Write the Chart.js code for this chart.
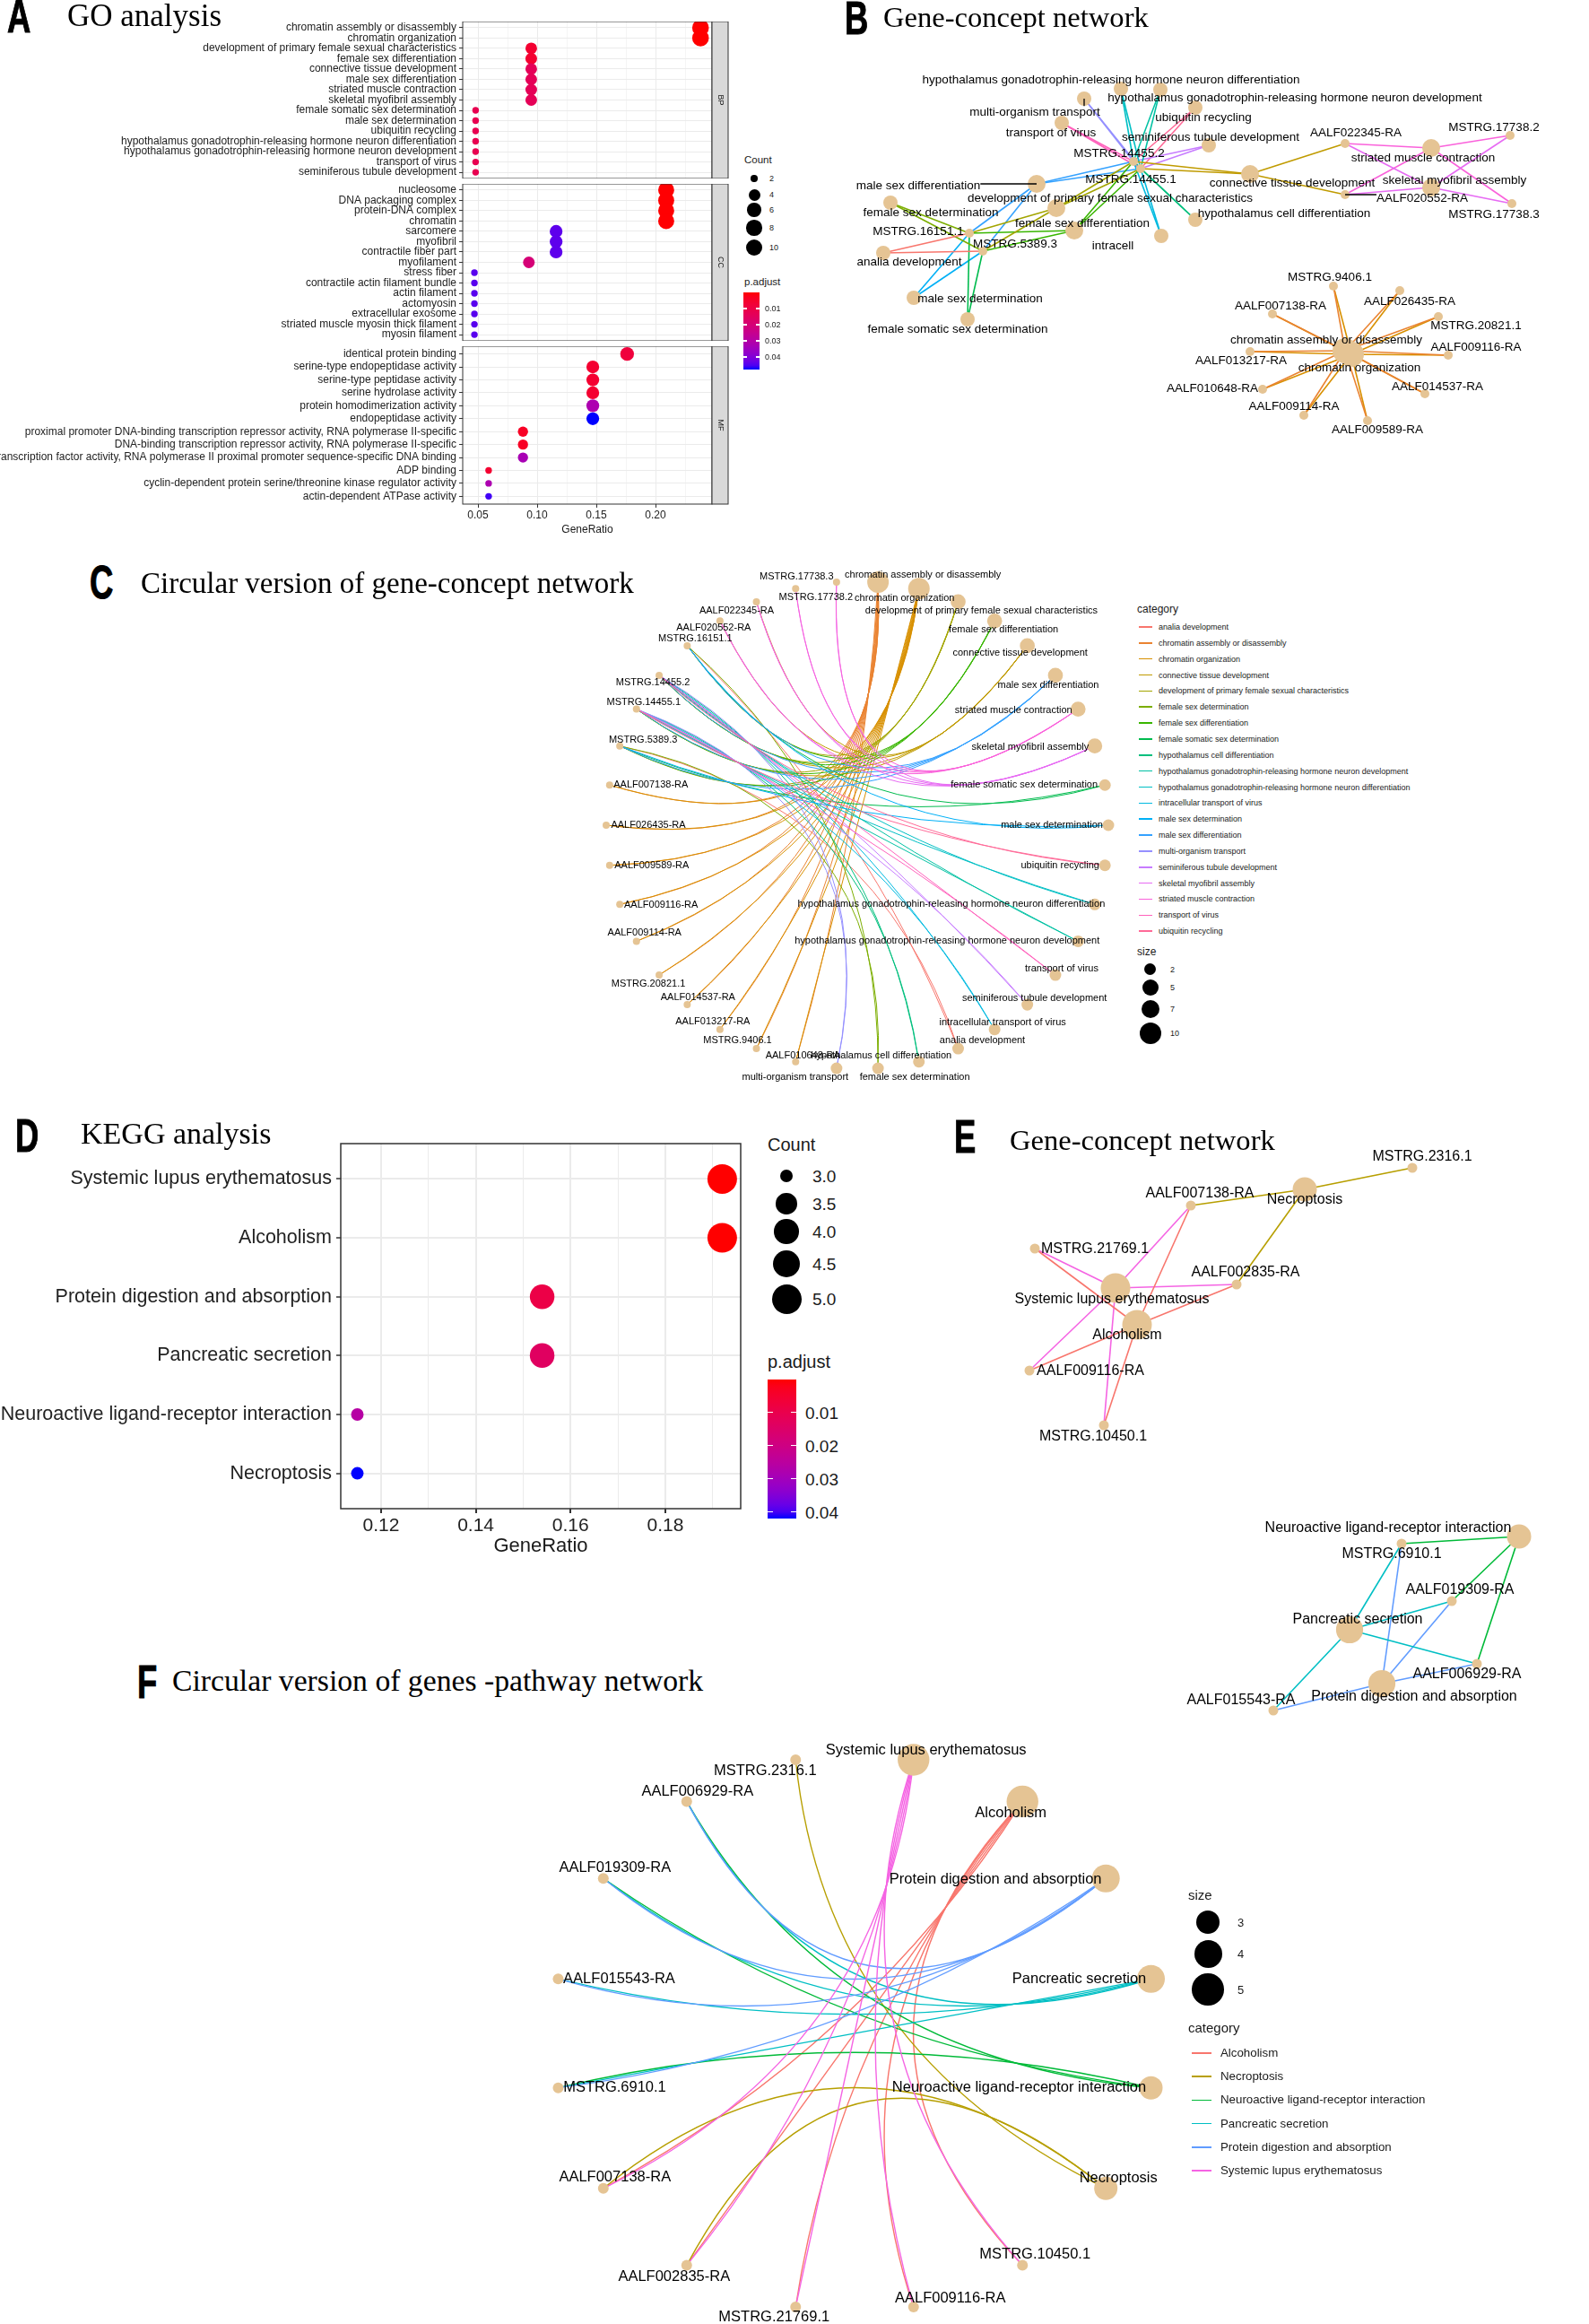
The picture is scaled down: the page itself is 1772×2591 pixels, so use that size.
<!DOCTYPE html>
<html>
<head>
<meta charset="utf-8">
<script src="https://cdn.jsdelivr.net/npm/chart.js@4.4.1/dist/chart.umd.min.js"></script>
<style>
  body { margin: 0; background: #fff; }
  #page { position: relative; width: 1772px; height: 2591px; overflow: hidden; background: #fff;
          font-family: "Liberation Sans", Arial, sans-serif; color: #1a1a1a; }
  #page canvas { position: absolute; }
  .t { position: absolute; white-space: nowrap; line-height: 1; }
  .letter { position: absolute; font: bold 52px "Liberation Sans", Arial, sans-serif; line-height: 1;
            transform: scaleX(0.7); transform-origin: 0 0; color: #000; -webkit-text-stroke: 1px #000; }
  .title { position: absolute; font-family: "Liberation Serif", "Times New Roman", serif; line-height: 1;
           white-space: nowrap; color: #000; }
</style>
</head>
<body>
<div id="page"></div>
<script>
// ---------------- GO enrichment (panel A) ----------------
const goBPTerms = ['chromatin assembly or disassembly', 'chromatin organization',
  'development of primary female sexual characteristics', 'female sex differentiation',
  'connective tissue development', 'male sex differentiation', 'striated muscle contraction',
  'skeletal myofibril assembly', 'female somatic sex determination', 'male sex determination',
  'ubiquitin recycling', 'hypothalamus gonadotrophin-releasing hormone neuron differentiation',
  'hypothalamus gonadotrophin-releasing hormone neuron development', 'transport of virus',
  'seminiferous tubule development'];
const goBPRatio = [0.238, 0.238, 0.095, 0.095, 0.095, 0.095, 0.095, 0.095, 0.048, 0.048, 0.048, 0.048, 0.048, 0.048, 0.048];
const goBPCount = [10, 10, 4, 4, 4, 4, 4, 4, 2, 2, 2, 2, 2, 2, 2];
const goBPPadj = [0.00001, 0.00001, 0.006, 0.006, 0.0135, 0.0135, 0.0135, 0.0135, 0.012, 0.012, 0.012, 0.012, 0.012, 0.012, 0.012];

const goCCTerms = ['nucleosome', 'DNA packaging complex', 'protein-DNA complex', 'chromatin', 'sarcomere',
  'myofibril', 'contractile fiber part', 'myofilament', 'stress fiber', 'contractile actin filament bundle',
  'actin filament', 'actomyosin', 'extracellular exosome', 'striated muscle myosin thick filament', 'myosin filament'];
const goCCRatio = [0.209, 0.209, 0.209, 0.209, 0.116, 0.116, 0.116, 0.093, 0.047, 0.047, 0.047, 0.047, 0.047, 0.047, 0.047];
const goCCCount = [9, 9, 9, 9, 5, 5, 5, 4, 2, 2, 2, 2, 2, 2, 2];
const goCCPadj = [0.0002, 0.0002, 0.0002, 0.0002, 0.044, 0.044, 0.044, 0.02, 0.0445, 0.0445, 0.0445, 0.0445, 0.0445, 0.0445, 0.0445];

const goMFTerms = ['identical protein binding', 'serine-type endopeptidase activity', 'serine-type peptidase activity',
  'serine hydrolase activity', 'protein homodimerization activity', 'endopeptidase activity',
  'proximal promoter DNA-binding transcription repressor activity, RNA polymerase II-specific',
  'DNA-binding transcription repressor activity, RNA polymerase II-specific',
  'transcription factor activity, RNA polymerase II proximal promoter sequence-specific DNA binding',
  'ADP binding', 'cyclin-dependent protein serine/threonine kinase regulator activity', 'actin-dependent ATPase activity'];
const goMFRatio = [0.176, 0.147, 0.147, 0.147, 0.147, 0.147, 0.088, 0.088, 0.088, 0.059, 0.059, 0.059];
const goMFCount = [6, 5, 5, 5, 5, 5, 3, 3, 3, 2, 2, 2];
const goMFPadj = [0.008, 0.006, 0.006, 0.006, 0.032, 0.0478, 0.004, 0.004, 0.033, 0.006, 0.032, 0.046];

const goXTicks = [0.05, 0.075, 0.1, 0.125, 0.15, 0.175, 0.2, 0.225];
const goCountBreaks = [2, 4, 6, 8, 10];
const goPadjBreaks = [0.01, 0.02, 0.03, 0.04];

// ---------------- KEGG enrichment (panel D) ----------------
const keggTerms = ['Systemic lupus erythematosus', 'Alcoholism', 'Protein digestion and absorption',
  'Pancreatic secretion', 'Neuroactive ligand-receptor interaction', 'Necroptosis'];
const keggRatio = [0.192, 0.192, 0.154, 0.154, 0.115, 0.115];
const keggCount = [5, 5, 4, 4, 3, 3];
const keggPadj = [0.0001, 0.0001, 0.009, 0.0135, 0.026, 0.042];
const keggXTicks = [0.12, 0.13, 0.14, 0.15, 0.16, 0.17, 0.18, 0.19];
const keggCountBreaks = [3, 3.5, 4, 4.5, 5];
const keggPadjBreaks = [0.01, 0.02, 0.03, 0.04];

// ---------------- gene-concept networks (panels B, C) ----------------
const chromatinGenes = ['MSTRG.9406.1', 'AALF026435-RA', 'AALF007138-RA', 'MSTRG.20821.1', 'AALF013217-RA',
  'AALF009116-RA', 'AALF010648-RA', 'AALF014537-RA', 'AALF009114-RA', 'AALF009589-RA'];
const pair14455 = ['MSTRG.14455.2', 'MSTRG.14455.1'];
const pairSex = ['MSTRG.16151.1', 'MSTRG.5389.3'];
const muscleGenes = ['AALF022345-RA', 'AALF020552-RA', 'MSTRG.17738.2', 'MSTRG.17738.3'];

const goNetTerms = ['analia development', 'chromatin assembly or disassembly', 'chromatin organization',
  'connective tissue development', 'development of primary female sexual characteristics',
  'female sex determination', 'female sex differentiation', 'female somatic sex determination',
  'hypothalamus cell differentiation', 'hypothalamus gonadotrophin-releasing hormone neuron development',
  'hypothalamus gonadotrophin-releasing hormone neuron differentiation', 'intracellular transport of virus',
  'male sex determination', 'male sex differentiation', 'multi-organism transport',
  'seminiferous tubule development', 'skeletal myofibril assembly', 'striated muscle contraction',
  'transport of virus', 'ubiquitin recycling'];
const goNetGenes = [pairSex, chromatinGenes, chromatinGenes,
  [...pair14455, 'AALF022345-RA', 'AALF020552-RA'], [...pair14455, ...pairSex],
  pairSex, [...pair14455, ...pairSex], pairSex, pair14455, pair14455, pair14455, pair14455,
  pairSex, [...pair14455, ...pairSex], pair14455, pair14455, muscleGenes, muscleGenes, pair14455, pair14455];

// order of nodes round the circle of panel C, clockwise from the top
const goCircleOrder = ['chromatin assembly or disassembly', 'chromatin organization',
  'development of primary female sexual characteristics', 'female sex differentiation',
  'connective tissue development', 'male sex differentiation', 'striated muscle contraction',
  'skeletal myofibril assembly', 'female somatic sex determination', 'male sex determination',
  'ubiquitin recycling', 'hypothalamus gonadotrophin-releasing hormone neuron differentiation',
  'hypothalamus gonadotrophin-releasing hormone neuron development', 'transport of virus',
  'seminiferous tubule development', 'intracellular transport of virus', 'analia development',
  'hypothalamus cell differentiation', 'female sex determination', 'multi-organism transport',
  'AALF010648-RA', 'MSTRG.9406.1', 'AALF013217-RA', 'AALF014537-RA', 'MSTRG.20821.1', 'AALF009114-RA',
  'AALF009116-RA', 'AALF009589-RA', 'AALF026435-RA', 'AALF007138-RA', 'MSTRG.5389.3', 'MSTRG.14455.1',
  'MSTRG.14455.2', 'MSTRG.16151.1', 'AALF020552-RA', 'AALF022345-RA', 'MSTRG.17738.3', 'MSTRG.17738.2'];
const goSizeBreaks = [2, 5, 7, 10];

// ---------------- gene-pathway networks (panels E, F) ----------------
const keggNetTerms = ['Alcoholism', 'Necroptosis', 'Neuroactive ligand-receptor interaction',
  'Pancreatic secretion', 'Protein digestion and absorption', 'Systemic lupus erythematosus'];
const keggNetGenes = [
  ['AALF007138-RA', 'MSTRG.21769.1', 'AALF002835-RA', 'AALF009116-RA', 'MSTRG.10450.1'],
  ['AALF007138-RA', 'MSTRG.2316.1', 'AALF002835-RA'],
  ['MSTRG.6910.1', 'AALF019309-RA', 'AALF006929-RA'],
  ['MSTRG.6910.1', 'AALF019309-RA', 'AALF006929-RA', 'AALF015543-RA'],
  ['MSTRG.6910.1', 'AALF019309-RA', 'AALF006929-RA', 'AALF015543-RA'],
  ['AALF007138-RA', 'MSTRG.21769.1', 'AALF002835-RA', 'AALF009116-RA', 'MSTRG.10450.1']];
const keggCircleOrder = ['Systemic lupus erythematosus', 'Alcoholism', 'Protein digestion and absorption',
  'Pancreatic secretion', 'Neuroactive ligand-receptor interaction', 'Necroptosis', 'MSTRG.10450.1',
  'AALF009116-RA', 'MSTRG.21769.1', 'AALF002835-RA', 'AALF007138-RA', 'MSTRG.6910.1', 'AALF015543-RA',
  'AALF019309-RA', 'AALF006929-RA', 'MSTRG.2316.1'];
const keggSizeBreaks = [3, 4, 5];

// ---------------- network layouts (force-directed) ----------------
const layoutB = {
  'MSTRG.14455.2': [3.34, 3.30], 'MSTRG.14455.1': [3.42, 3.22], 'MSTRG.16151.1': [1.51, 2.50],
  'MSTRG.5389.3': [1.66, 2.30], 'AALF022345-RA': [5.70, 3.50], 'AALF020552-RA': [5.70, 2.93],
  'MSTRG.17738.2': [7.54, 3.59], 'MSTRG.17738.3': [7.56, 2.83], 'MSTRG.9406.1': [5.57, 1.91],
  'AALF026435-RA': [6.31, 1.86], 'AALF007138-RA': [4.89, 1.60], 'MSTRG.20821.1': [6.74, 1.57],
  'AALF013217-RA': [4.64, 1.18], 'AALF009116-RA': [6.85, 1.14], 'AALF010648-RA': [4.78, 0.76],
  'AALF014537-RA': [6.59, 0.71], 'AALF009114-RA': [5.24, 0.47], 'AALF009589-RA': [5.95, 0.41],
  'chromatin assembly or disassembly': [5.70, 1.19], 'chromatin organization': [5.77, 1.15],
  'development of primary female sexual characteristics': [2.48, 2.78], 'female sex differentiation': [2.68, 2.53],
  'connective tissue development': [4.64, 3.16], 'male sex differentiation': [2.26, 3.05],
  'striated muscle contraction': [6.66, 3.45], 'skeletal myofibril assembly': [6.66, 3.01],
  'female somatic sex determination': [1.49, 1.54], 'male sex determination': [0.89, 1.78],
  'ubiquitin recycling': [4.03, 3.90], 'hypothalamus gonadotrophin-releasing hormone neuron differentiation': [3.20, 4.11],
  'hypothalamus gonadotrophin-releasing hormone neuron development': [3.64, 4.10], 'transport of virus': [2.54, 3.73],
  'seminiferous tubule development': [4.18, 3.48], 'female sex determination': [0.63, 2.84],
  'analia development': [0.55, 2.28], 'hypothalamus cell differentiation': [4.03, 2.65],
  'intracellular transport of virus': [3.65, 2.47], 'multi-organism transport': [2.79, 4.00]
};
const layoutE = {
  'MSTRG.2316.1': [5.15, 6.43], 'Necroptosis': [3.95, 6.19], 'AALF007138-RA': [2.68, 6.01],
  'MSTRG.21769.1': [0.94, 5.53], 'Systemic lupus erythematosus': [1.84, 5.09], 'AALF002835-RA': [3.19, 5.13],
  'Alcoholism': [2.08, 4.68], 'AALF009116-RA': [0.88, 4.17], 'MSTRG.10450.1': [1.71, 3.56],
  'Neuroactive ligand-receptor interaction': [6.34, 2.32], 'MSTRG.6910.1': [5.03, 2.24],
  'AALF019309-RA': [5.59, 1.60], 'Pancreatic secretion': [4.45, 1.28], 'AALF006929-RA': [5.87, 0.90],
  'Protein digestion and absorption': [4.81, 0.68], 'AALF015543-RA': [3.60, 0.38]
};

// label nudges (pixels, as placed by the label repel step)
const nudgeB = {
  'hypothalamus gonadotrophin-releasing hormone neuron differentiation': [-11, -10],
  'hypothalamus gonadotrophin-releasing hormone neuron development': [150, 9],
  'multi-organism transport': [-55, 15], 'ubiquitin recycling': [9, 11], 'transport of virus': [-12, 11],
  'seminiferous tubule development': [2, -9], 'MSTRG.14455.2': [-16, -9], 'MSTRG.14455.1': [-11, 12],
  'connective tissue development': [47, 10], 'male sex differentiation': [-132, 2],
  'development of primary female sexual characteristics': [60, -11], 'female sex determination': [45, 11],
  'hypothalamus cell differentiation': [99, -7], 'female sex differentiation': [9, -8],
  'MSTRG.16151.1': [-57, -2], 'intracellular transport of virus': [-54, 11], 'MSTRG.5389.3': [36, -8],
  'analia development': [29, 10], 'AALF022345-RA': [12, -12], 'MSTRG.17738.2': [-18, -9],
  'striated muscle contraction': [-9, 11], 'skeletal myofibril assembly': [26, -8], 'AALF020552-RA': [86, 4],
  'MSTRG.17738.3': [-20, 12], 'male sex determination': [74, 1], 'female somatic sex determination': [-11, 11],
  'MSTRG.9406.1': [-4, -10], 'AALF026435-RA': [11, 12], 'AALF007138-RA': [9, -9], 'MSTRG.20821.1': [42, 10],
  'chromatin assembly or disassembly': [-21, -12], 'chromatin organization': [9, 15], 'AALF013217-RA': [-10, 10],
  'AALF009116-RA': [31, -9], 'AALF010648-RA': [-56, -1], 'AALF014537-RA': [14, -8], 'AALF009114-RA': [-11, -10],
  'AALF009589-RA': [11, 10]
};
const nudgeC = {
  'MSTRG.17738.3': [1, -13], 'MSTRG.17738.2': [-23, 17], 'AALF022345-RA': [-22, 10], 'AALF020552-RA': [-7, 8],
  'MSTRG.16151.1': [9, -8], 'MSTRG.14455.2': [-7, 8], 'MSTRG.14455.1': [8, -8], 'MSTRG.5389.3': [26, -7],
  'AALF007138-RA': [46, 0], 'AALF026435-RA': [47, 0], 'AALF009589-RA': [47, 0], 'AALF009116-RA': [46, 1],
  'AALF009114-RA': [9, -9], 'MSTRG.20821.1': [-12, 10], 'AALF014537-RA': [12, -8], 'AALF013217-RA': [-8, -9],
  'MSTRG.9406.1': [-21, -9], 'AALF010648-RA': [8, -7],
  'chromatin assembly or disassembly': [50, -8], 'chromatin organization': [-16, 11],
  'development of primary female sexual characteristics': [26, 10], 'female sex differentiation': [10, 10],
  'connective tissue development': [-8, 8], 'male sex differentiation': [-8, 11],
  'striated muscle contraction': [-72, 1], 'skeletal myofibril assembly': [-72, 1],
  'female somatic sex determination': [-90, 0], 'male sex determination': [-63, 0], 'ubiquitin recycling': [-50, 0],
  'hypothalamus gonadotrophin-releasing hormone neuron differentiation': [-160, 0],
  'hypothalamus gonadotrophin-releasing hormone neuron development': [-146, 0], 'transport of virus': [7, -7],
  'seminiferous tubule development': [8, -7], 'intracellular transport of virus': [9, -8],
  'analia development': [27, -9], 'hypothalamus cell differentiation': [-42, -7],
  'female sex determination': [41, 10], 'multi-organism transport': [-46, 10]
};
const nudgeE = {
  'MSTRG.2316.1': [11, -12], 'Necroptosis': [0, 12], 'AALF007138-RA': [10, -13], 'MSTRG.21769.1': [67, 1],
  'Systemic lupus erythematosus': [-4, 13], 'AALF002835-RA': [10, -13], 'Alcoholism': [-11, 12],
  'AALF009116-RA': [68, 1], 'MSTRG.10450.1': [-12, 13], 'Neuroactive ligand-receptor interaction': [-146, -9],
  'MSTRG.6910.1': [-11, 12], 'AALF019309-RA': [9, -12], 'Pancreatic secretion': [9, -11],
  'AALF006929-RA': [-11, 12], 'Protein digestion and absorption': [36, 15], 'AALF015543-RA': [-36, -11]
};
const nudgeF = {
  'Systemic lupus erythematosus': [14, -11], 'MSTRG.2316.1': [-34, 12], 'AALF006929-RA': [12, -11],
  'Alcoholism': [-13, 13], 'AALF019309-RA': [13, -12], 'Protein digestion and absorption': [-123, 1],
  'AALF015543-RA': [68, 0], 'Pancreatic secretion': [-80, 0], 'MSTRG.6910.1': [63, 0],
  'Neuroactive ligand-receptor interaction': [-147, 0], 'AALF007138-RA': [13, -12], 'Necroptosis': [14, -11],
  'AALF002835-RA': [-14, 13], 'MSTRG.10450.1': [14, -12], 'MSTRG.21769.1': [-24, 11], 'AALF009116-RA': [41, -10]
};

// ---------------- colour helpers ----------------
function toLinear(c) { c /= 255; return c <= 0.04045 ? c / 12.92 : Math.pow((c + 0.055) / 1.055, 2.4); }
function xyzToRgb(X, Y, Z) {
  const lin = [3.2406 * X - 1.5372 * Y - 0.4986 * Z, -0.9689 * X + 1.8758 * Y + 0.0415 * Z, 0.0557 * X - 0.2040 * Y + 1.0570 * Z];
  const g = c => { c = Math.max(0, Math.min(1, c)); c = c <= 0.0031308 ? 12.92 * c : 1.055 * Math.pow(c, 1 / 2.4) - 0.055; return Math.round(c * 255); };
  return 'rgb(' + lin.map(g).join(',') + ')';
}
function rgbToLab(rgb) {
  const [R, G, B] = rgb.map(toLinear);
  const X = (0.4124 * R + 0.3576 * G + 0.1805 * B) / 0.95047, Y = 0.2126 * R + 0.7152 * G + 0.0722 * B,
        Z = (0.0193 * R + 0.1192 * G + 0.9505 * B) / 1.08883;
  const f = t => t > 0.008856 ? Math.cbrt(t) : 7.787 * t + 16 / 116;
  return [116 * f(Y) - 16, 500 * (f(X) - f(Y)), 200 * (f(Y) - f(Z))];
}
function labToRgb([L, a, b]) {
  const fy = (L + 16) / 116, fx = fy + a / 500, fz = fy - b / 200;
  const inv = t => t * t * t > 0.008856 ? t * t * t : (t - 16 / 116) / 7.787;
  return xyzToRgb(inv(fx) * 0.95047, inv(fy), inv(fz) * 1.08883);
}
// ggplot hue palette (polar Luv, l = 65, c = 100)
function hueColors(n) {
  const un = 0.19784, vn = 0.46834, L = 65, Y = Math.pow((L + 16) / 116, 3);
  return Array.from({ length: n }, (_, i) => {
    const h = (15 + 360 * i / n) * Math.PI / 180;
    const u = 100 * Math.cos(h) / (13 * L) + un, v = 100 * Math.sin(h) / (13 * L) + vn;
    return xyzToRgb(Y * 9 * u / (4 * v), Y, Y * (12 - 3 * u - 20 * v) / (4 * v));
  });
}
const LAB_LOW = rgbToLab([255, 0, 0]), LAB_HIGH = rgbToLab([0, 0, 255]);
function padjColor(p, range) {
  const t = Math.max(0, Math.min(1, (p - range[0]) / (range[1] - range[0])));
  return labToRgb(LAB_LOW.map((v, i) => v + (LAB_HIGH[i] - v) * t));
}

const goAllPadj = [...goBPPadj, ...goCCPadj, ...goMFPadj];
const GO_P_RANGE = [Math.min(...goAllPadj), Math.max(...goAllPadj)];
const KEGG_P_RANGE = [Math.min(...keggPadj), Math.max(...keggPadj)];
const goAllCount = [...goBPCount, ...goCCCount, ...goMFCount];
const GO_N_RANGE = [Math.min(...goAllCount), Math.max(...goAllCount)];
const KEGG_N_RANGE = [Math.min(...keggCount), Math.max(...keggCount)];
const goRadius = n => 3.7 + 5.6 * Math.sqrt((n - GO_N_RANGE[0]) / (GO_N_RANGE[1] - GO_N_RANGE[0]));
const keggRadius = n => 7 + 9.5 * Math.sqrt((n - KEGG_N_RANGE[0]) / (KEGG_N_RANGE[1] - KEGG_N_RANGE[0]));

const NODE_COLOR = '#E5C494';
const goHue = hueColors(goNetTerms.length);
const keggHue = hueColors(keggNetTerms.length);

// ---------------- page helpers ----------------
const page = document.getElementById('page');
function txt(s, x, y, size, opt = {}) {
  const d = document.createElement('div');
  d.className = 't';
  d.textContent = s;
  d.style.left = x + 'px';
  d.style.top = y + 'px';
  d.style.fontSize = size + 'px';
  const tx = opt.align === 'center' ? '-50%' : opt.align === 'right' ? '-100%' : '0';
  d.style.transform = 'translate(' + tx + ',-50%)';
  if (opt.color) d.style.color = opt.color;
  page.appendChild(d);
  return d;
}
function box(x, y, w, h, css) {
  const d = document.createElement('div');
  d.style.position = 'absolute';
  d.style.left = x + 'px'; d.style.top = y + 'px';
  d.style.width = w + 'px'; d.style.height = h + 'px';
  Object.assign(d.style, css || {});
  page.appendChild(d);
  return d;
}
function dot(cx, cy, r, color) {
  return box(cx - r, cy - r, 2 * r, 2 * r, { background: color || '#000', borderRadius: '50%' });
}
function letter(s, x, baseline) {
  const d = document.createElement('div');
  d.className = 'letter';
  d.textContent = s;
  d.style.left = x + 'px';
  d.style.top = (baseline - 44) + 'px';
  page.appendChild(d);
}
function title(s, x, baseline, size) {
  const d = document.createElement('div');
  d.className = 'title';
  d.textContent = s;
  d.style.left = x + 'px';
  d.style.top = (baseline - 0.8375 * size) + 'px';
  d.style.fontSize = size + 'px';
  page.appendChild(d);
}
function canvasAt(left, top, w, h) {
  const c = document.createElement('canvas');
  c.width = w; c.height = h;
  c.style.left = left + 'px'; c.style.top = top + 'px';
  c.style.width = w + 'px'; c.style.height = h + 'px';
  page.appendChild(c);
  return c;
}
function colorbar(x, y, w, h, range, breaks, labelX, size) {
  const stops = [];
  for (let i = 0; i <= 20; i++) stops.push(padjColor(range[0] + (range[1] - range[0]) * i / 20, range) + ' ' + (i * 5) + '%');
  box(x, y, w, h, { background: 'linear-gradient(to bottom,' + stops.join(',') + ')' });
  breaks.forEach(b => {
    const ty = y + (b - range[0]) / (range[1] - range[0]) * h;
    box(x, ty - 0.5, w / 5, 1.2, { background: '#fff' });
    box(x + w - w / 5, ty - 0.5, w / 5, 1.2, { background: '#fff' });
    txt(b.toFixed(2), labelX, ty, size);
  });
}

Chart.defaults.font.family = '"Liberation Sans", Arial, sans-serif';
Chart.defaults.animation = false;
Chart.defaults.responsive = false;
Chart.defaults.events = [];
Chart.defaults.layout.autoPadding = false;
Chart.defaults.plugins.legend.display = false;
Chart.defaults.plugins.tooltip.enabled = false;

// keep the plot area exactly where the axis boxes put it
const fitX = h => s => { s.height = h; s.paddingLeft = 0; s.paddingRight = 0; };
const fitY = w => s => { s.width = w; s.paddingTop = 0; s.paddingBottom = 0; };

const panelBorder = lw => ({
  id: 'panelBorder',
  afterDatasetsDraw(chart) {
    const { ctx, chartArea: a } = chart;
    ctx.save();
    ctx.strokeStyle = '#333';
    ctx.lineWidth = lw;
    ctx.strokeRect(a.left, a.top, a.right - a.left, a.bottom - a.top);
    ctx.restore();
  }
});
const facetStrip = label => ({
  id: 'facetStrip',
  afterDraw(chart) {
    const { ctx, chartArea: a } = chart;
    ctx.save();
    ctx.fillStyle = '#D9D9D9';
    ctx.fillRect(a.right, a.top, 18, a.bottom - a.top);
    ctx.strokeStyle = '#333';
    ctx.lineWidth = 1;
    ctx.strokeRect(a.right, a.top, 18, a.bottom - a.top);
    ctx.translate(a.right + 9, (a.top + a.bottom) / 2);
    ctx.rotate(Math.PI / 2);
    ctx.fillStyle = '#1A1A1A';
    ctx.font = '9px "Liberation Sans", Arial, sans-serif';
    ctx.textAlign = 'center';
    ctx.textBaseline = 'middle';
    ctx.fillText(label, 0, 0);
    ctx.restore();
  }
});

// ---------------- panel A ----------------
const isGoMajor = v => Math.abs(v * 20 - Math.round(v * 20)) < 1e-6;
function goFacet(top, h, xh, terms, ratio, count, padj, strip) {
  new Chart(canvasAt(0, top, 830, h), {
    type: 'bubble',
    data: { datasets: [{
      data: terms.map((t, i) => ({ x: ratio[i], y: i, r: goRadius(count[i]) })),
      backgroundColor: padj.map(p => padjColor(p, GO_P_RANGE)),
      borderWidth: 0, clip: 0
    }] },
    options: {
      layout: { padding: { right: 36, left: 0, top: 0, bottom: 0 } },
      scales: {
        x: {
          type: 'linear', min: 0.0371, max: 0.2477,
          afterBuildTicks: s => { s.ticks = goXTicks.map(v => ({ value: v })); },
          afterFit: fitX(xh),
          border: { display: false },
          grid: {
            color: '#EBEBEB', drawTicks: xh > 0, tickLength: 4,
            lineWidth: c => (c.tick && isGoMajor(c.tick.value)) ? 1 : 0.5,
            tickColor: c => (c.tick && isGoMajor(c.tick.value)) ? '#333' : 'rgba(0,0,0,0)'
          },
          ticks: { display: xh > 0, autoSkip: false, maxRotation: 0, padding: 1, color: '#222',
                   font: { size: 12 }, callback: v => isGoMajor(v) ? v.toFixed(2) : '' }
        },
        y: {
          type: 'linear', reverse: true, min: -0.6, max: terms.length - 0.4,
          afterBuildTicks: s => { s.ticks = terms.map((t, i) => ({ value: i })); },
          afterFit: fitY(516),
          border: { display: false },
          grid: { color: '#EBEBEB', lineWidth: 1, tickLength: 4, tickColor: '#333' },
          ticks: { autoSkip: false, padding: 3, color: '#222', font: { size: 12 }, callback: v => terms[v] }
        }
      }
    },
    plugins: [panelBorder(1), facetStrip(strip)]
  });
}
goFacet(24, 175, 0, goBPTerms, goBPRatio, goBPCount, goBPPadj, 'BP');
goFacet(205, 175, 0, goCCTerms, goCCRatio, goCCCount, goCCPadj, 'CC');
goFacet(386, 224, 48, goMFTerms, goMFRatio, goMFCount, goMFPadj, 'MF');
txt('GeneRatio', 655, 590, 12, { align: 'center' });

txt('Count', 830, 179, 11.5);
[199, 217, 234, 254, 276].forEach((y, i) => {
  dot(841, y, goRadius(goCountBreaks[i]));
  txt(String(goCountBreaks[i]), 858, y, 9);
});
txt('p.adjust', 830, 315, 11.5);
colorbar(829, 326, 18, 86, GO_P_RANGE, goPadjBreaks, 853, 9);

letter('A', 8, 36);
title('GO analysis', 75, 29, 35);

// ---------------- panel D ----------------
const isKeggMajor = v => Math.round(v * 100) % 2 === 0;
new Chart(canvasAt(0, 1255, 830, 505), {
  type: 'bubble',
  data: { datasets: [{
    data: keggTerms.map((t, i) => ({ x: keggRatio[i], y: i, r: keggRadius(keggCount[i]) })),
    backgroundColor: keggPadj.map(p => padjColor(p, KEGG_P_RANGE)),
    borderWidth: 0, clip: 0
  }] },
  options: {
    layout: { padding: { right: 4, top: 20, left: 0, bottom: 0 } },
    scales: {
      x: {
        type: 'linear', min: 0.1115, max: 0.1959,
        afterBuildTicks: s => { s.ticks = keggXTicks.map(v => ({ value: v })); },
        afterFit: fitX(78),
        border: { display: false },
        grid: {
          color: '#EBEBEB', tickLength: 5,
          lineWidth: c => (c.tick && isKeggMajor(c.tick.value)) ? 2 : 1,
          tickColor: c => (c.tick && isKeggMajor(c.tick.value)) ? '#333' : 'rgba(0,0,0,0)'
        },
        ticks: { autoSkip: false, maxRotation: 0, padding: 2, color: '#222', font: { size: 21 },
                 callback: v => isKeggMajor(v) ? v.toFixed(2) : '' }
      },
      y: {
        type: 'linear', reverse: true, min: -0.6, max: keggTerms.length - 0.4,
        afterBuildTicks: s => { s.ticks = keggTerms.map((t, i) => ({ value: i })); },
        afterFit: fitY(380),
        border: { display: false },
        grid: { color: '#EBEBEB', lineWidth: 2, tickLength: 5, tickColor: '#333', tickWidth: 1.5 },
        ticks: { autoSkip: false, padding: 5, color: '#222', font: { size: 21.5 }, callback: v => keggTerms[v] }
      }
    }
  },
  plugins: [panelBorder(1.5)]
});
txt('GeneRatio', 603, 1723, 22, { align: 'center' });
txt('Count', 856, 1276, 20);
[1311, 1342, 1373, 1409, 1448].forEach((y, i) => {
  dot(877, y, keggRadius(keggCountBreaks[i]));
  txt(keggCountBreaks[i].toFixed(1), 906, y, 19);
});
txt('p.adjust', 856, 1518, 20);
colorbar(856, 1538, 32, 155, KEGG_P_RANGE, keggPadjBreaks, 898, 19);

letter('D', 17, 1284);
title('KEGG analysis', 90, 1275, 34);

// ---------------- network drawing ----------------
function buildNodes(terms, genes, pos, termR, geneR, nudge) {
  const nodes = terms.map((t, i) => ({ name: t, x: pos[t][0], y: pos[t][1], r: termR(genes[i].length), off: nudge[t] || [0, 0] }));
  [...new Set(genes.flat())].forEach(g => nodes.push({ name: g, x: pos[g][0], y: pos[g][1], r: geneR, off: nudge[g] || [0, 0] }));
  return nodes;
}
function buildEdges(terms, genes, pos, colors) {
  const edges = [];
  terms.forEach((t, i) => genes[i].forEach(g => edges.push({ a: pos[g], b: pos[t], color: colors[i] })));
  return edges;
}
function circlePositions(order) {
  const pos = {};
  order.forEach((name, i) => {
    const a = (90 - 360 / order.length * (i + 0.5)) * Math.PI / 180;
    pos[name] = [Math.cos(a), Math.sin(a)];
  });
  return pos;
}
const arcEdges = (edges, bend, lw) => ({
  id: 'arcEdges',
  beforeDatasetsDraw(chart) {
    const { ctx, scales: { x, y } } = chart;
    ctx.save();
    ctx.lineWidth = lw;
    edges.forEach(e => {
      const cx = (e.a[0] + e.b[0]) / 2 * (1 - bend), cy = (e.a[1] + e.b[1]) / 2 * (1 - bend);
      ctx.strokeStyle = e.color;
      ctx.beginPath();
      ctx.moveTo(x.getPixelForValue(e.a[0]), y.getPixelForValue(e.a[1]));
      ctx.quadraticCurveTo(x.getPixelForValue(cx), y.getPixelForValue(cy), x.getPixelForValue(e.b[0]), y.getPixelForValue(e.b[1]));
      ctx.stroke();
    });
    ctx.restore();
  }
});
const nodeLabels = (nodes, size, rename, leaders) => ({
  id: 'nodeLabels',
  afterDatasetsDraw(chart) {
    const { ctx, scales: { x, y } } = chart;
    ctx.save();
    ctx.font = size + 'px "Liberation Sans", Arial, sans-serif';
    ctx.textAlign = 'center';
    ctx.textBaseline = 'middle';
    nodes.forEach(n => {
      const px = x.getPixelForValue(n.x), py = y.getPixelForValue(n.y);
      const lx = px + n.off[0], ly = py + n.off[1];
      const label = rename[n.name] || n.name;
      if (leaders.includes(n.name)) {
        const hw = ctx.measureText(label).width / 2, hh = size / 2;
        const qx = Math.max(lx - hw, Math.min(lx + hw, px)), qy = Math.max(ly - hh, Math.min(ly + hh, py));
        ctx.strokeStyle = '#000';
        ctx.lineWidth = 1.3;
        ctx.beginPath(); ctx.moveTo(qx, qy); ctx.lineTo(px, py); ctx.stroke();
      }
      ctx.fillStyle = '#000';
      ctx.fillText(label, lx, ly);
    });
    ctx.restore();
  }
});
function networkChart(rect, xr, yr, nodes, edges, o) {
  const datasets = [{
    data: nodes.map(n => ({ x: n.x, y: n.y })),
    pointRadius: nodes.map(n => n.r), pointHoverRadius: nodes.map(n => n.r),
    pointBackgroundColor: NODE_COLOR, pointBorderWidth: 0, order: 0, clip: false
  }];
  if (!o.arcs) {
    edges.forEach(e => datasets.push({
      data: [{ x: e.a[0], y: e.a[1] }, { x: e.b[0], y: e.b[1] }],
      showLine: true, borderColor: e.color, borderWidth: o.lw, pointRadius: 0, order: 1, clip: false
    }));
  }
  const plugins = [nodeLabels(nodes, o.font, o.rename || {}, o.leaders || [])];
  if (o.arcs) plugins.push(arcEdges(edges, o.bend, o.lw));
  new Chart(canvasAt(...rect), {
    type: 'scatter',
    data: { datasets },
    options: {
      layout: { padding: 0 },
      scales: {
        x: { type: 'linear', min: xr[0], max: xr[1], display: false },
        y: { type: 'linear', min: yr[0], max: yr[1], display: false }
      }
    },
    plugins
  });
}

// panel B
networkChart([930, 45, 842, 465], [0, 8.42], [0, 4.65],
  buildNodes(goNetTerms, goNetGenes, layoutB, n => 3.15 + 3.43 * Math.sqrt(n), 5, nudgeB),
  buildEdges(goNetTerms, goNetGenes, layoutB, goHue),
  { lw: 1.6, font: 13.5, rename: { 'intracellular transport of virus': 'intracell' },
    leaders: ['male sex differentiation', 'multi-organism transport', 'AALF020552-RA'] });
letter('B', 942, 38);
title('Gene-concept network', 985, 30, 32.6);

// panel C
const circC = circlePositions(goCircleOrder);
networkChart([620, 615, 640, 610], [-1.2, 1.0857], [-1.1213, 1.1213],
  buildNodes(goNetTerms, goNetGenes, circC, n => 2.05 + 3.15 * Math.sqrt(n), 4, nudgeC),
  buildEdges(goNetTerms, goNetGenes, circC, goHue),
  { arcs: true, bend: 1.3, lw: 1, font: 11 });
letter('C', 100, 667);
title('Circular version of gene-concept network', 157, 662, 33);
txt('category', 1268, 679, 12);
goNetTerms.forEach((t, i) => {
  const y = 699 + i * 17.85;
  box(1270, y - 0.8, 15, 1.6, { background: goHue[i] });
  txt(t, 1292, y, 9);
});
txt('size', 1268, 1061, 12);
[1081, 1101, 1125, 1152].forEach((y, i) => {
  dot(1283, y, 2.05 + 3.15 * Math.sqrt(goSizeBreaks[i]));
  txt(String(goSizeBreaks[i]), 1305, y, 9);
});

// panel E
networkChart([1060, 1265, 712, 680], [0, 7.12], [0, 6.8],
  buildNodes(keggNetTerms, keggNetGenes, layoutE, n => 3.2 + 5.95 * Math.sqrt(n), 5.5, nudgeE),
  buildEdges(keggNetTerms, keggNetGenes, layoutE, keggHue),
  { lw: 1.6, font: 16 });
letter('E', 1064, 1285);
title('Gene-concept network', 1126, 1282, 32.6);

// panel F
const circF = circlePositions(keggCircleOrder);
networkChart([560, 1920, 780, 671], [-1.1662, 1.1484], [-1.0418, 1.1158],
  buildNodes(keggNetTerms, keggNetGenes, circF, n => -3.1 + 9.3 * Math.sqrt(n), 6, nudgeF),
  buildEdges(keggNetTerms, keggNetGenes, circF, keggHue),
  { arcs: true, bend: 1.3, lw: 1.4, font: 16.5 });
letter('F', 153, 1893);
title('Circular version of genes -pathway network', 192, 1885, 33.7);
txt('size', 1325, 2112, 15);
[2143, 2178, 2218].forEach((y, i) => {
  dot(1347, y, -3.1 + 9.3 * Math.sqrt(keggSizeBreaks[i]));
  txt(String(keggSizeBreaks[i]), 1380, y, 13);
});
txt('category', 1325, 2260, 15);
keggNetTerms.forEach((t, i) => {
  const y = 2289 + i * 26.2;
  box(1329, y - 0.9, 22, 1.8, { background: keggHue[i] });
  txt(t, 1361, y, 13.3);
});
</script>
</body>
</html>
